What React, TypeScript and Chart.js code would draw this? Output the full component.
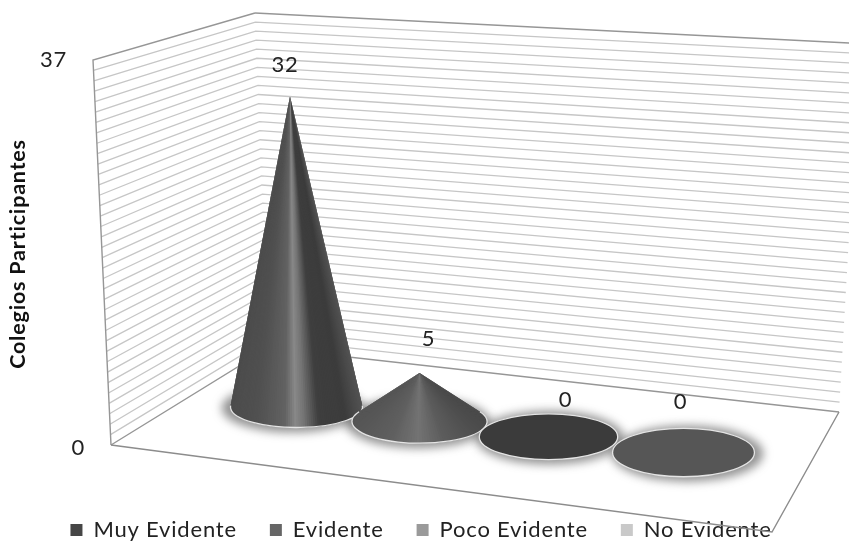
import React, { useEffect, useRef } from "react";
import { Chart, registerables } from "chart.js";

Chart.register(...registerables);

const categories = ["Muy Evidente", "Evidente", "Poco Evidente", "No Evidente"];
const colegios = [32, 5, 0, 0];
const axisMax = 37;
const axisTitle = "Colegios Participantes";

const FONT = "Lato, Carlito, sans-serif";
const INK = "#222222";
const legendColors = ["#464646", "#666666", "#9a9a9a", "#c9c9c9"];
const flatColors = ["#444444", "#666666", "#3b3b3b", "#565656"];
const ramps: [number, number][][] = [
  [[0, 0x4c], [0.2, 0x50], [0.42, 0x62], [0.5, 0x88], [0.56, 0x76], [0.68, 0x3e], [0.88, 0x3c], [1, 0x52]],
  [[0, 0x55], [0.3, 0x60], [0.5, 0x73], [0.7, 0x5c], [1, 0x4a]],
  [[0, 0x3b], [1, 0x3b]],
  [[0, 0x56], [1, 0x56]],
];
const labelOffsets = [[-5, -32], [9, -34], [17, -37], [-3, -51]];

type P = [number, number];
const WALL = {
  frontTop: [93, 60] as P,
  frontBottom: [111, 445] as P,
  backTop: [255, 13] as P,
  backBottom: [268.5, 348] as P,
  rightTop: [860, 43.5] as P,
  rightBottom: [839, 412] as P,
  floorFrontRight: [772, 532] as P,
};
const lerp = (a: P, b: P, t: number): P => [a[0] + (b[0] - a[0]) * t, a[1] + (b[1] - a[1]) * t];

function rampAt(r: [number, number][], u: number) {
  for (let i = 1; i < r.length; i++) {
    if (u <= r[i][0]) {
      const k = (u - r[i - 1][0]) / (r[i][0] - r[i - 1][0]);
      const g = Math.round(r[i - 1][1] + (r[i][1] - r[i - 1][1]) * k);
      return `rgb(${g},${g},${g})`;
    }
  }
  const g = r[r.length - 1][1];
  return `rgb(${g},${g},${g})`;
}

// place a category's base on the receding floor, and its tip along the leaning verticals
function project(chart: any, i: number, v: number) {
  const xs = chart.scales.x;
  const ys = chart.scales.y;
  const x0 = xs.getPixelForValue(0);
  const x3 = xs.getPixelForValue(categories.length - 1);
  const raw = xs.getPixelForValue(i);
  const t = (raw - x0) / (x3 - x0);
  const cx = raw - 27 * t * (1 - t);
  const cy = 407 + (cx - x0) * 0.1178;
  const rx = 66 + (cx - x0) * 0.0128;
  const ry = 20.5 + (cx - x0) * 0.0095;
  const h = (ys.getPixelForValue(0) - ys.getPixelForValue(v)) * 0.925;
  const lean = (420 - cx) * 0.00017;
  return { cx, cy, rx, ry, h, ax: cx - h * lean, ay: cy - h };
}

const conePlugin = {
  id: "cone3d",
  beforeUpdate(chart: any) {
    chart.ctx.letterSpacing = "0.8px";
  },
  afterLayout(chart: any) {
    const lg = chart.legend;
    const shift = 421 - (lg.left + lg.right) / 2;
    lg.left += shift;
    lg.right += shift;
    lg.top = 530 - 33 - 11;
    lg.bottom = 600;
    const ys = chart.scales.y;
    ys.getLabelItems().forEach((it: any) => {
      it.options.translation[0] -= it.label === String(axisMax) ? 165 : 147;
    });
  },
  beforeDatasetsDraw(chart: any) {
    const { ctx } = chart;
    const ys = chart.scales.y;
    const y0 = ys.getPixelForValue(0);
    const yMax = ys.getPixelForValue(axisMax);
    const line = (a: P, b: P, c?: P) => {
      ctx.beginPath();
      ctx.moveTo(a[0], a[1]);
      ctx.lineTo(b[0], b[1]);
      if (c) ctx.lineTo(c[0], c[1]);
      ctx.stroke();
    };
    ctx.save();
    ctx.lineWidth = 1.3;
    ctx.strokeStyle = "#c6c6c6";
    ys.ticks.forEach((tk: any) => {
      const t = (y0 - ys.getPixelForValue(tk.value)) / (y0 - yMax);
      if (t <= 0 || t >= 1) return;
      line(
        lerp(WALL.frontBottom, WALL.frontTop, t),
        lerp(WALL.backBottom, WALL.backTop, t),
        lerp(WALL.rightBottom, WALL.rightTop, t)
      );
    });
    ctx.strokeStyle = "#969696";
    ctx.lineWidth = 1.4;
    line(WALL.frontBottom, WALL.frontTop, WALL.backTop);
    line(WALL.backTop, WALL.rightTop);
    line(WALL.frontBottom, WALL.backBottom, WALL.rightBottom);
    ctx.strokeStyle = "#8c8c8c";
    line(WALL.frontBottom, WALL.floorFrontRight, WALL.rightBottom);

    // soft shadow pool under each base
    const data = chart.data.datasets[0].data as number[];
    data.forEach((v, i) => {
      const p = project(chart, i, v);
      ctx.save();
      ctx.filter = "blur(5px)";
      ctx.fillStyle = "rgba(80,80,80,0.62)";
      ctx.beginPath();
      ctx.ellipse(p.cx + (p.cx - 490) * 0.02, p.cy + 1, p.rx + 5, p.ry + 4, 0, 0, Math.PI * 2);
      ctx.fill();
      ctx.restore();
    });

    data.forEach((v, i) => {
      const p = project(chart, i, v);
      const ramp = ramps[i];
      if (p.h <= p.ry + 1) {
        ctx.fillStyle = flatColors[i];
        ctx.beginPath();
        ctx.ellipse(p.cx, p.cy, p.rx, p.ry, 0, 0, Math.PI * 2);
        ctx.fill();
        ctx.strokeStyle = "#e4e4e4";
        ctx.lineWidth = 1.3;
        ctx.stroke();
        return;
      }
      const a0 = Math.asin(-p.ry / p.h);
      const a1 = Math.PI - a0;
      const N = 100;
      const pt = (a: number): P => [p.cx + p.rx * Math.cos(a), p.cy + p.ry * Math.sin(a)];
      // fan of overlapping slices from tip to base, so the shading converges on the tip
      for (let k = 0; k < N; k++) {
        const a = a0 + ((a1 - a0) * k) / N;
        const b = a0 + ((a1 - a0) * Math.min(N, k + 3)) / N;
        const A = pt(a);
        const u = (A[0] - (p.cx - p.rx)) / (2 * p.rx);
        ctx.fillStyle = rampAt(ramp, Math.min(1, Math.max(0, u)));
        ctx.beginPath();
        ctx.moveTo(p.ax, p.ay);
        ctx.lineTo(A[0], A[1]);
        ctx.ellipse(p.cx, p.cy, p.rx, p.ry, 0, a, b);
        ctx.closePath();
        ctx.fill();
      }
      ctx.strokeStyle = "#e4e4e4";
      ctx.lineWidth = 1.3;
      ctx.beginPath();
      ctx.ellipse(p.cx, p.cy, p.rx, p.ry, 0, a0, a1);
      ctx.stroke();
    });
    ctx.restore();
  },
  afterDatasetsDraw(chart: any) {
    const { ctx } = chart;
    const data = chart.data.datasets[0].data as number[];
    ctx.save();
    ctx.font = `22px ${FONT}`;
    ctx.fillStyle = INK;
    ctx.textAlign = "center";
    ctx.textBaseline = "middle";
    data.forEach((v, i) => {
      const p = project(chart, i, v);
      ctx.fillText(String(v), p.ax + labelOffsets[i][0], p.ay + labelOffsets[i][1]);
    });
    ctx.restore();
  },
};

export default function App() {
  const ref = useRef<HTMLCanvasElement>(null);
  useEffect(() => {
    document.body.style.margin = "0";
    const chart = new Chart(ref.current as HTMLCanvasElement, {
      type: "bar",
      data: {
        labels: categories,
        datasets: [{ label: axisTitle, data: colegios, backgroundColor: "rgba(0,0,0,0)", borderWidth: 0 }],
      },
      plugins: [conePlugin],
      options: {
        responsive: false,
        animation: false,
        layout: { autoPadding: false, padding: { top: 60, right: 0, bottom: 29, left: 5 } },
        scales: {
          x: { display: false, offset: true },
          y: {
            min: 0,
            max: axisMax,
            afterFit(s: any) {
              s.width = 227;
              s.paddingTop = 0;
              s.paddingBottom = 0;
            },
            grid: { display: false, drawTicks: false },
            border: { display: false },
            title: {
              display: true,
              text: axisTitle,
              color: "#111111",
              padding: 0,
              font: { family: FONT, size: 21.5, weight: "bold" },
            },
            ticks: {
              stepSize: 1,
              autoSkip: false,
              padding: 0,
              color: INK,
              font: { family: FONT, size: 22 },
              callback: (v: any) => (v === 0 || v === axisMax ? String(v) : ""),
            },
          },
          depthGutter: {
            type: "linear",
            position: "right",
            afterFit(s: any) {
              s.width = 101;
              s.paddingTop = 0;
              s.paddingBottom = 0;
            },
            grid: { display: false, drawTicks: false },
            border: { display: false },
            ticks: { display: false },
          },
        },
        plugins: {
          tooltip: { enabled: false },
          legend: {
            position: "bottom",
            onClick: () => {},
            labels: {
              boxWidth: 12,
              boxHeight: 12,
              padding: 33,
              color: INK,
              font: { family: FONT, size: 22 },
              generateLabels: () =>
                categories.map((c, i) => ({
                  text: c,
                  fillStyle: legendColors[i],
                  strokeStyle: legendColors[i],
                  lineWidth: 0,
                  fontColor: INK,
                  index: i,
                })),
            },
          },
        },
      } as any,
    });
    return () => chart.destroy();
  }, []);
  return <canvas ref={ref} width={849} height={542} style={{ display: "block" }} />;
}
